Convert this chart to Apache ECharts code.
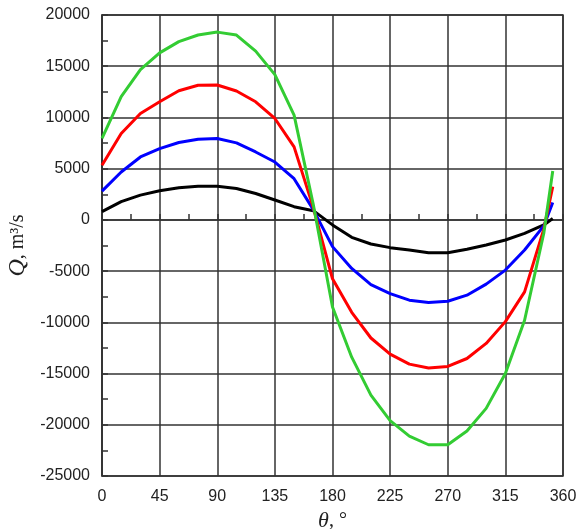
<!DOCTYPE html>
<html>
<head>
<meta charset="utf-8">
<script src="https://cdn.jsdelivr.net/npm/echarts@6/dist/echarts.min.js"></script>
<style>
  html, body { margin: 0; padding: 0; background: #fff; }
  #renderChart { width: 578px; height: 529px; }
</style>
</head>
<body>
<div id="renderChart"></div>
<script>
// angle of each sample, degrees
const theta = [0, 15, 30, 45, 60, 75, 90, 105, 120, 135, 150, 165, 180,
  195, 210, 225, 240, 255, 270, 285, 300, 315, 330, 345, 352];

// discharge Q, m3/s
const qGreen = [7950, 12030, 14670, 16300, 17400, 18050, 18330, 18040, 16470, 14180, 10230, 1500, -8500,
  -13400, -17100, -19600, -21100, -21950, -21950, -20600, -18400, -15000, -9800, -1300, 4780];
const qRed = [5330, 8430, 10390, 11530, 12610, 13140, 13170, 12580, 11530, 9900, 7130, 1200, -5750,
  -9020, -11530, -13100, -14080, -14450, -14300, -13530, -12060, -9930, -7030, -900, 3250];
const qBlue = [2810, 4670, 6140, 6960, 7550, 7870, 7940, 7520, 6630, 5650, 4020, 1000, -2610,
  -4740, -6310, -7190, -7840, -8070, -7940, -7350, -6270, -4900, -2940, -590, 1690];
const qBlack = [810, 1780, 2420, 2840, 3130, 3290, 3290, 3070, 2580, 1940, 1290, 900, -490,
  -1700, -2350, -2710, -2940, -3200, -3200, -2870, -2450, -1960, -1310, -490, 130];

const pairs = q => theta.map((t, i) => [t, q[i]]);

const myChart = echarts.init(document.getElementById('renderChart'));

const gridColor = '#333';
const labelStyle = { color: '#222', fontFamily: 'Liberation Sans, Arial', fontSize: 16 };

const line = (name, q, color) => ({
  name: name,
  type: 'line',
  data: pairs(q),
  symbol: 'none',
  lineStyle: { color: color, width: 3 },
  animation: false
});

const option = {
  animation: false,
  grid: {
    left: 102, right: 15, top: 15, bottom: 53,
    outerBoundsMode: 'none',
    containLabel: false,
    show: true, borderColor: gridColor, borderWidth: 1.5
  },
  xAxis: {
    type: 'value',
    min: 0, max: 360, interval: 45,
    name: '{i|θ}{n|, °}',
    nameLocation: 'middle',
    nameGap: 33,
    nameTextStyle: {
      rich: {
        i: { fontFamily: 'Liberation Serif, Times New Roman', fontStyle: 'italic', fontSize: 22, color: '#222' },
        n: { fontFamily: 'Liberation Serif, Times New Roman', fontSize: 20, color: '#222' }
      }
    },
    axisLine: { lineStyle: { color: gridColor, width: 1.5 } },
    axisTick: { inside: true, length: 6, lineStyle: { color: gridColor, width: 1.5 } },
    minorTick: { show: true, splitNumber: 2, length: 6, lineStyle: { color: gridColor, width: 1.5 } },
    axisLabel: Object.assign({ margin: 13, formatter: v => String(v) }, labelStyle),
    splitLine: { show: true, lineStyle: { color: gridColor, width: 1.5 } }
  },
  yAxis: {
    type: 'value',
    min: -25000, max: 20000, interval: 5000,
    name: '{i|Q}{n|, m³/s}',
    nameLocation: 'middle',
    nameGap: 68,
    nameRotate: 90,
    nameTextStyle: {
      rich: {
        i: { fontFamily: 'Liberation Serif, Times New Roman', fontStyle: 'italic', fontSize: 24, color: '#222' },
        n: { fontFamily: 'Liberation Serif, Times New Roman', fontSize: 20, color: '#222' }
      }
    },
    axisLine: { lineStyle: { color: gridColor, width: 1.5 } },
    axisTick: { inside: true, length: 6, lineStyle: { color: gridColor, width: 1.5 } },
    minorTick: { show: true, splitNumber: 2, length: 6, lineStyle: { color: gridColor, width: 1.5 } },
    axisLabel: Object.assign({ margin: 12, formatter: v => String(v) }, labelStyle),
    splitLine: { show: true, lineStyle: { color: gridColor, width: 1.5 } }
  },
  series: [
    line('black', qBlack, '#000000'),
    line('blue', qBlue, '#0000ff'),
    line('red', qRed, '#ff0000'),
    line('green', qGreen, '#33cc33')
  ]
};

myChart.setOption(option);
</script>
</body>
</html>
